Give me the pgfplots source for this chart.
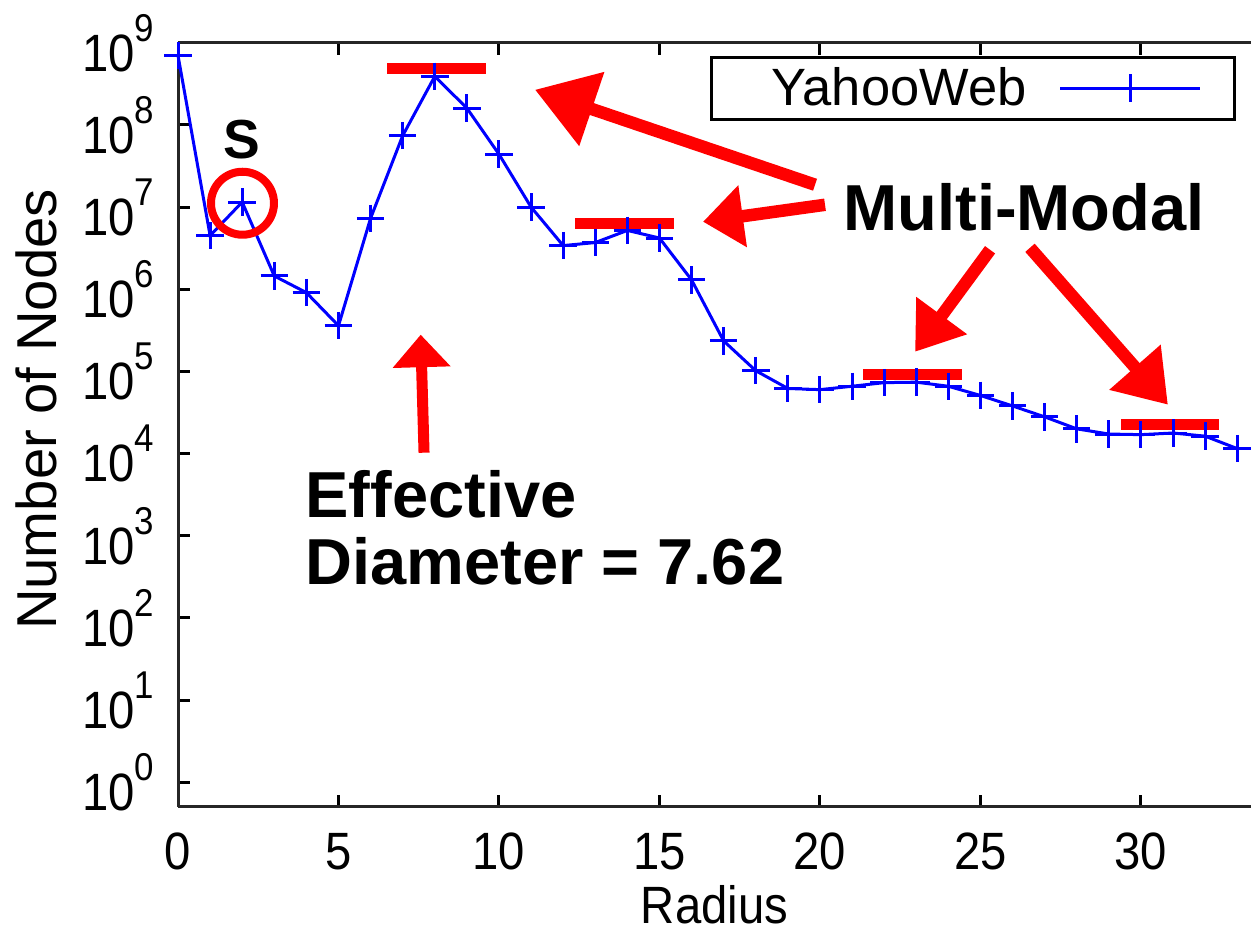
\documentclass[border=0pt]{standalone}
\usepackage{fontspec}
\setmainfont{Liberation Sans}
\newfontfamily\condsans[FakeStretch=0.9]{Liberation Sans}
\usepackage{pgfplots}
\pgfplotsset{compat=1.18}
\usetikzlibrary{arrows.meta}
\newcommand{\tp}[1]{10\raisebox{12pt}{\fontsize{15.5}{16}\selectfont #1}}
\begin{document}
\begin{tikzpicture}
\path[use as bounding box] (-71.2pt,-51.6pt) rectangle (429.2pt,322.8pt);
\begin{axis}[
  at={(0pt,0pt)}, anchor=south west,
  scale only axis, width=429.2pt, height=305.7pt,
  ymode=log, xmin=0, xmax=33.43, ymin=0.5, ymax=1e9,
  axis x line*=box, axis y line*=left,
  clip=false,
  xtick={0,5,...,30},
  ytick={1,10,100,1000,10000,100000,1000000,10000000,100000000,1000000000},
  yticklabels={\tp{0},\tp{1},\tp{2},\tp{3},\tp{4},\tp{5},\tp{6},\tp{7},\tp{8},\tp{9}},
  yminorticks=false, xminorticks=false,
  /pgf/number format/assume math mode=true,
  tick align=inside, major tick length=4.8pt,
  tick style={line width=1.2pt, black},
  axis line style={line width=1.2pt, black!85},
  tick label style={font=\condsans\fontsize{21}{25}\selectfont},
  xticklabel style={yshift=-7pt},
  yticklabel style={xshift=-6pt},
  xlabel={Radius}, ylabel={Number of Nodes},
  xlabel style={font=\condsans\fontsize{21}{25}\selectfont, at={(axis description cs:0.5,-0.128)}, anchor=center},
  ylabel style={font=\fontsize{22.5}{26}\selectfont, at={(axis description cs:-0.1323,0.52)}, anchor=center},
  legend style={at={(rel axis cs:0.986,0.983)}, anchor=north east, draw=black, line width=1.2pt,
    font=\fontsize{21}{25}\selectfont, legend plot pos=right, inner xsep=13pt, inner ysep=2pt,
    nodes={inner xsep=0pt}},
  legend image code/.code={\draw[mark repeat=2,mark phase=2,#1] plot coordinates {(0pt,0pt) (28pt,0pt) (56pt,0pt)};},
]
\addplot[color={rgb,255:red,0;green,0;blue,255}, line width=1.2pt, mark=+, mark size=5.5pt, mark options={line width=1.2pt}] coordinates {
(0,7.0e8) (1,4.5e6) (2,1.15e7) (3,1.45e6) (4,9.1e5) (5,3.6e5) (6,7.3e6) (7,7.4e7)
(8,3.9e8) (9,1.6e8) (10,4.4e7) (11,1.0e7) (12,3.4e6) (13,3.7e6) (14,5.2e6) (15,4.2e6)
(16,1.3e6) (17,2.35e5) (18,1.02e5) (19,6.2e4) (20,6.0e4) (21,6.6e4) (22,7.3e4) (23,7.4e4)
(24,6.6e4) (25,5.1e4) (26,3.8e4) (27,2.8e4) (28,2.0e4) (29,1.73e4) (30,1.7e4) (31,1.78e4)
(32,1.63e4) (33,1.15e4)
};
\addlegendentry{\hspace*{11pt}YahooWeb\hspace*{13pt}}
% annotations
\draw[red, line width=4.4pt] (rel axis cs:0.1948,0.9667) -- (rel axis cs:0.2870,0.9667);
\draw[red, line width=4.4pt] (rel axis cs:0.3700,0.7638) -- (rel axis cs:0.4623,0.7638);
\draw[red, line width=4.4pt] (rel axis cs:0.6384,0.5663) -- (rel axis cs:0.7307,0.5663);
\draw[red, line width=4.4pt] (rel axis cs:0.8789,0.5002) -- (rel axis cs:0.9702,0.5002);
\draw[red, line width=3.2pt] (rel axis cs:0.0601,0.7900) circle[radius=12.6pt];
\draw[red, line width=5pt, -{Triangle[length=24pt,width=30pt]}] (rel axis cs:0.5937,0.8142) -- (rel axis cs:0.3327,0.9385);
\draw[red, line width=5pt, -{Triangle[length=16pt,width=24pt]}] (rel axis cs:0.6030,0.7880) -- (rel axis cs:0.4893,0.7658);
\draw[red, line width=5pt, -{Triangle[length=18pt,width=24pt]}] (rel axis cs:0.7568,0.7291) -- (rel axis cs:0.6869,0.5956);
\draw[red, line width=5pt, -{Triangle[length=20pt,width=26pt]}] (rel axis cs:0.7940,0.7317) -- (rel axis cs:0.9226,0.5263);
\draw[red, line width=4.4pt, -{Triangle[length=13pt,width=22.4pt]}] (rel axis cs:0.2293,0.4636) -- (rel axis cs:0.2262,0.6180);
\node[font=\fontsize{22}{26}\selectfont\bfseries] at (rel axis cs:0.0596,0.8730) {S};
\node[font=\fontsize{26}{30}\selectfont\bfseries] at (rel axis cs:0.7884,0.7841) {Multi-Modal};
\node[anchor=base west, inner sep=0pt, font=\fontsize{26}{30}\selectfont\bfseries] at (rel axis cs:0.1184,0.3785) {Effective};
\node[anchor=base west, inner sep=0pt, font=\fontsize{26}{30}\selectfont\bfseries] at (rel axis cs:0.1184,0.2911) {Diameter = 7.62};
\end{axis}
\end{tikzpicture}
\end{document}
